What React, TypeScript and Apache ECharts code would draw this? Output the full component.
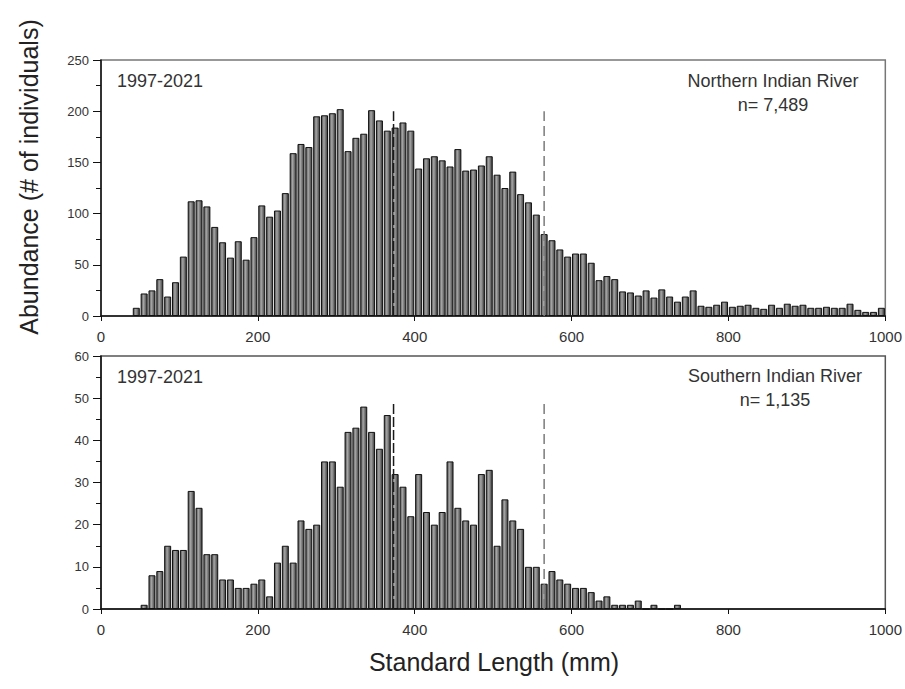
import React, { useEffect, useRef } from "react";
import * as echarts from "echarts";

// Bin midpoints (10 mm bins)
const northBins: number[] = Array.from({ length: 96 }, (_, i) => 45 + i * 10);
const northCounts: number[] = [
  8, 22, 25, 36, 19, 33, 58, 112, 113, 107,
  87, 72, 57, 73, 55, 77, 108, 97, 103, 120,
  159, 168, 165, 195, 196, 198, 202, 161, 174, 178,
  201, 191, 181, 184, 189, 181, 144, 154, 156, 152,
  146, 163, 142, 143, 147, 156, 138, 125, 141, 119,
  111, 99, 80, 74, 65, 58, 61, 61, 52, 35,
  39, 36, 24, 23, 20, 25, 18, 26, 19, 14,
  19, 25, 10, 9, 11, 14, 9, 10, 11, 8,
  7, 11, 8, 12, 10, 11, 8, 8, 9, 8,
  8, 12, 6, 4, 4, 8,
];

const southBins: number[] = Array.from({ length: 69 }, (_, i) => 55 + i * 10);
const southCounts: number[] = [
  1, 8, 9, 15, 14, 14, 28, 24, 13, 13,
  7, 7, 5, 5, 6, 7, 3, 11, 15, 11,
  21, 19, 20, 35, 35, 29, 42, 43, 48, 42,
  38, 46, 32, 29, 22, 32, 23, 20, 23, 35,
  24, 21, 20, 32, 33, 15, 26, 21, 19, 10,
  10, 6, 9, 7, 6, 5, 5, 4, 2, 3,
  1, 1, 1, 2, 0, 1, 0, 0, 1,
];

const xTicks = { min: 0, max: 1000, interval: 200 };
const northY = { min: 0, max: 250, interval: 50 };
const southY = { min: 0, max: 60, interval: 10 };
const refLines: number[] = [373, 565];
const northLineTop = 200;
const southLineTop = 49;

const period = "1997-2021";
const northLabel = "Northern Indian River";
const northN = "n= 7,489";
const southLabel = "Southern Indian River";
const southN = "n= 1,135";
const yTitle = "Abundance (# of individuals)";
const xTitle = "Standard Length (mm)";

const FONT = "'Liberation Sans', Arial, Helvetica, sans-serif";

export default function App() {
  const ref = useRef<HTMLDivElement>(null);

  useEffect(() => {
    if (!ref.current) return;
    const chart = echarts.init(ref.current, undefined, { renderer: "svg" });

    const barFill = new echarts.graphic.LinearGradient(0, 0, 1, 0, [
      { offset: 0, color: "#4a4a4a" },
      { offset: 0.4, color: "#a6a6a6" },
      { offset: 1, color: "#3c3c3c" },
    ]);

    const xAxisBase = (gridIndex: number) => ({
      type: "value",
      gridIndex,
      min: xTicks.min,
      max: xTicks.max,
      interval: xTicks.interval,
      axisLine: { show: true, onZero: false, lineStyle: { color: "#111", width: 1.5 } },
      axisTick: { show: true, inside: false, length: 5, lineStyle: { color: "#111" } },
      axisLabel: {
        fontSize: 15,
        color: "#333",
        margin: 13,
        fontFamily: FONT,
        formatter: (v: number) => String(v),
      },
      splitLine: { show: false },
    });

    const yAxisBase = (gridIndex: number, cfg: { min: number; max: number; interval: number }) => ({
      type: "value",
      gridIndex,
      min: cfg.min,
      max: cfg.max,
      interval: cfg.interval,
      axisLine: { show: true, lineStyle: { color: "#111", width: 1.5 } },
      axisTick: { show: true, inside: false, length: 8, lineStyle: { color: "#111" } },
      minorTick: { show: true, splitNumber: 2, length: 5, lineStyle: { color: "#111" } },
      axisLabel: { fontSize: 13, color: "#333", margin: 12, fontFamily: FONT },
      splitLine: { show: false },
      minorSplitLine: { show: false },
    });

    const refSeries = (top: number, idx: number) =>
      refLines.map((x, i) => ({
        type: "line",
        xAxisIndex: idx,
        yAxisIndex: idx,
        data: [
          [x, 0],
          [x, top],
        ],
        symbol: "none",
        silent: true,
        z: 5,
        lineStyle: {
          color: i === 0 ? "#1a1a1a" : "#7a7a7a",
          width: 1.5,
          type: i === 0 ? [10, 3] : [10, 5],
        },
      }));

    const text = (x: number, y: number, t: string, size: number, align: string) => ({
      type: "text",
      x,
      y,
      style: {
        text: t,
        fontSize: size,
        fontFamily: FONT,
        fill: "#333",
        textAlign: align,
        textVerticalAlign: "middle",
      },
    });

    const barItem = { color: barFill, borderColor: "#111", borderWidth: 1 };

    chart.setOption({
      animation: false,
      backgroundColor: "#ffffff",
      grid: [
        { left: 101, top: 60, width: 785, height: 256, show: true, borderColor: "#777", borderWidth: 1.5, backgroundColor: "transparent" },
        { left: 101, top: 356, width: 785, height: 253, show: true, borderColor: "#555", borderWidth: 1.5, backgroundColor: "transparent" },
      ],
      xAxis: [xAxisBase(0), xAxisBase(1)],
      yAxis: [yAxisBase(0, northY), yAxisBase(1, southY)],
      series: [
        {
          type: "bar",
          xAxisIndex: 0,
          yAxisIndex: 0,
          barWidth: 7,
          data: northBins.map((b, i) => [b, northCounts[i]]),
          itemStyle: barItem,
          silent: true,
        },
        {
          type: "bar",
          xAxisIndex: 1,
          yAxisIndex: 1,
          barWidth: 7,
          data: southBins.map((b, i) => [b, southCounts[i]]),
          itemStyle: barItem,
          silent: true,
        },
        ...refSeries(northLineTop, 0),
        ...refSeries(southLineTop, 1),
      ],
      graphic: [
        text(117, 81, period, 18, "left"),
        text(773, 81, northLabel, 18, "center"),
        text(773, 105, northN, 18, "center"),
        text(117, 377, period, 18, "left"),
        text(775, 376, southLabel, 18, "center"),
        text(775, 400, southN, 18, "center"),
        {
          type: "text",
          x: 29,
          y: 177,
          rotation: Math.PI / 2,
          style: {
            text: yTitle,
            fontSize: 25,
            fontFamily: FONT,
            fill: "#222",
            textAlign: "center",
            textVerticalAlign: "middle",
          },
        },
        {
          type: "text",
          x: 494,
          y: 662,
          style: {
            text: xTitle,
            fontSize: 25,
            fontFamily: FONT,
            fill: "#222",
            textAlign: "center",
            textVerticalAlign: "middle",
          },
        },
      ],
    });

    return () => chart.dispose();
  }, []);

  return (
    <div
      ref={ref}
      style={{ position: "fixed", left: 0, top: 0, width: 905, height: 689, background: "#fff" }}
    />
  );
}
